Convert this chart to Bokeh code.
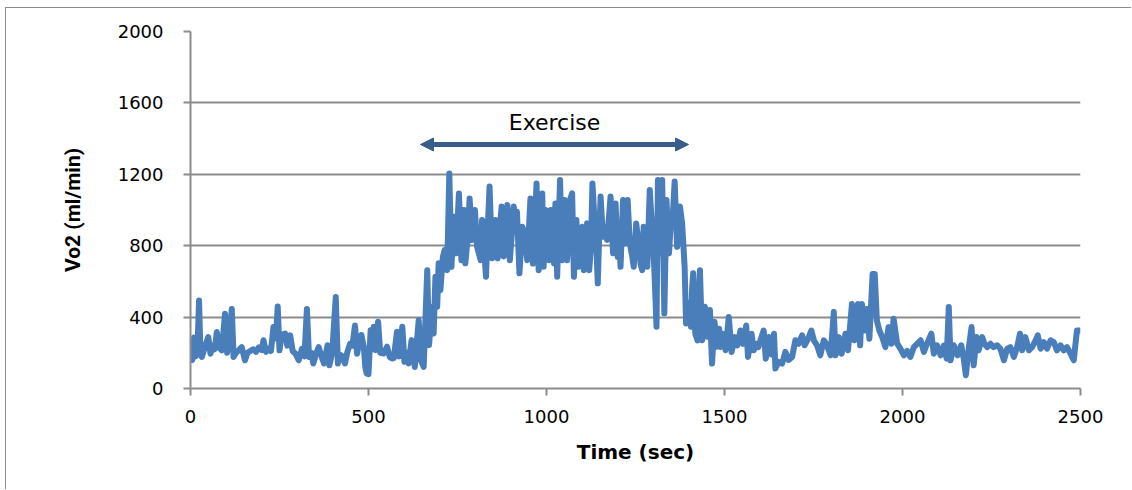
from bokeh.plotting import figure
from bokeh.models import Range1d, FixedTicker, Arrow, NormalHead, Label
from bokeh.embed import file_html
from bokeh.resources import INLINE

time_sec = [0, 5, 10, 15, 20, 24, 28, 32, 40, 50, 56, 62, 68, 74, 80, 88, 97, 103, 110, 116,
            121, 128, 136, 144, 153, 160, 168, 176, 184, 192, 200, 205, 212, 220, 226, 233, 240, 245, 250, 256,
            266, 272, 280, 287, 295, 304, 313, 320, 327, 333, 340, 345, 352, 360, 368, 375, 385, 390, 398, 408,
            414, 420, 427, 434, 440, 448, 455, 462, 468, 474, 480, 487, 491, 495,
            500, 506, 511, 515, 520, 527, 533, 543, 552, 560, 566, 571, 580, 586, 595, 601, 609, 613, 621, 630,
            641, 647, 655, 665, 670, 679, 683, 688, 693, 697, 702, 709, 714, 721, 727, 733, 740, 746, 754, 761,
            768, 772, 779, 784, 791, 799, 805, 815, 819, 824, 830, 835, 840, 847, 852, 857, 863, 869, 874, 880,
            885, 890, 897, 902, 908, 913, 917, 924, 932, 938, 946, 950, 955, 962, 967, 972, 978, 983, 988,
            992, 997, 1002, 1007, 1012, 1016, 1021, 1025, 1030, 1034, 1038, 1044, 1051, 1058, 1063, 1066, 1072, 1077, 1084, 1090,
            1095, 1100, 1105, 1110, 1114, 1120, 1125, 1129, 1136, 1140, 1144, 1148, 1152, 1157, 1161, 1166, 1170, 1175, 1180, 1187,
            1194, 1200, 1204, 1208, 1215, 1221, 1228, 1234, 1240, 1245, 1252, 1259, 1264, 1269, 1273, 1278, 1283, 1290, 1297, 1303,
            1309, 1313, 1320, 1325, 1331, 1337, 1344, 1350, 1353, 1360, 1367, 1375, 1381, 1388, 1392, 1400, 1406, 1409, 1412, 1418,
            1424, 1431, 1437, 1445, 1451, 1459, 1465, 1472, 1479,
            1485, 1489, 1494, 1503, 1512, 1520, 1529, 1536, 1545, 1552, 1561, 1566, 1576, 1582, 1590, 1595, 1601, 1610, 1616, 1624,
            1632, 1639, 1643, 1652, 1662, 1671, 1680, 1690, 1699, 1708, 1718, 1725, 1735, 1744, 1751, 1760, 1769, 1779, 1786, 1798,
            1807, 1812, 1821, 1829, 1840, 1847, 1858, 1865, 1875, 1881, 1886, 1894, 1900, 1907, 1916, 1922, 1928, 1935, 1943, 1952,
            1961, 1969, 1975, 1985, 1994,
            2004, 2013, 2022, 2032, 2041, 2051, 2060, 2069, 2081, 2088, 2097, 2107, 2116, 2124, 2130, 2135, 2144, 2155, 2165, 2172,
            2178, 2186, 2194, 2200, 2208, 2214, 2224, 2230, 2238, 2247, 2256, 2266, 2275, 2285, 2294, 2303, 2313, 2322, 2330, 2336,
            2345, 2355, 2364, 2374, 2380, 2388, 2397, 2406, 2416, 2425, 2434, 2444, 2453, 2462, 2472, 2481, 2490, 2500]

vo2 = [175, 160, 285, 180, 250, 493, 200, 177, 230, 288, 195, 240, 220, 316, 230, 214, 419, 200, 300, 446,
       177, 200, 215, 232, 158, 200, 210, 220, 205, 230, 215, 270, 205, 225, 210, 344, 280, 459, 214, 300,
       307, 240, 298, 210, 195, 158, 223, 180, 446, 177, 200, 140, 190, 232, 180, 140, 242, 130, 200, 512,
       140, 190, 180, 140, 200, 250, 240, 353, 195, 260, 300, 230, 120, 84,
       80, 327, 220, 346, 215, 374, 200, 196, 234, 175, 168, 170, 318, 180, 346, 150, 200, 140, 271, 121,
       383, 159, 121, 663, 243, 458, 308, 626, 458, 701, 551, 738, 776, 663, 1205, 682, 962, 757, 1093, 719,
       1000, 701, 850, 1065, 832, 1000, 794, 719, 944, 800, 626, 900, 1131, 730, 850, 944, 729, 900, 1019, 740,
       900, 1028, 719, 850, 1019, 900, 990, 645, 906, 870, 719, 870, 1065, 700, 900, 1149, 663, 900, 1093,
       682, 1000, 850, 719, 1000, 850, 701, 1037, 626, 900, 1168, 719, 1056, 719, 950, 1056, 1093, 626, 944, 682,
       850, 906, 663, 850, 925, 663, 800, 1149, 906, 800, 589, 850, 1075, 900, 850, 900, 832, 950, 1075, 757,
       1037, 738, 850, 682, 1056, 813, 1056, 813, 750, 682, 925, 813, 700, 663, 906, 800, 682, 1112, 888, 663,
       346, 1168, 757, 1168, 421, 1056, 757, 950, 906, 1159, 794, 1019, 925, 682, 364, 477, 346, 560, 645, 308,
       270, 663, 271, 458, 290, 440, 140, 374, 234,
       335, 232, 307, 214, 400, 205, 288, 242, 325, 250, 353, 177, 307, 214, 250, 232, 270, 325, 167, 288,
       190, 307, 112, 149, 140, 205, 160, 177, 270, 251, 298, 242, 279, 325, 270, 242, 186, 270, 251, 186,
       428, 186, 288, 195, 307, 214, 474, 270, 474, 242, 474, 325, 446, 279, 642, 642, 381, 325, 288, 232,
       344, 251, 391, 251, 223,
       186, 210, 177, 232, 250, 270, 205, 251, 307, 195, 242, 186, 240, 167, 456, 158, 242, 186, 242, 167,
       74, 223, 344, 130, 288, 214, 288, 251, 232, 251, 232, 242, 223, 158, 223, 232, 177, 232, 307, 214,
       288, 214, 232, 270, 298, 223, 260, 223, 270, 260, 214, 242, 214, 232, 195, 158, 325, 325]

x_ticks = [0, 500, 1000, 1500, 2000, 2500]
y_ticks = [0, 400, 800, 1200, 1600, 2000]
exercise_span = [646, 1399]
exercise_level = 1367
exercise_label = "Exercise"

p = figure(width=1126, height=482, output_backend="svg", toolbar_location=None,
           x_range=Range1d(0, 2500), y_range=Range1d(0, 2000),
           min_border_left=184, min_border_right=52, min_border_top=23, min_border_bottom=102,
           background_fill_color="white", border_fill_color="white")
p.styles = {"margin-left": "5px", "margin-top": "7px",
            "border-left": "1px solid #8c8c8c", "border-top": "1px solid #8c8c8c"}
p.outline_line_color = None

p.line(time_sec, vo2, line_color="#4A7EBB", line_width=6, line_join="round")

p.add_layout(Arrow(start=NormalHead(size=13, fill_color="#385D8A", line_color="#385D8A"),
                   end=NormalHead(size=13, fill_color="#385D8A", line_color="#385D8A"),
                   x_start=exercise_span[0], x_end=exercise_span[1],
                   y_start=exercise_level, y_end=exercise_level,
                   line_color="#385D8A", line_width=5))
p.add_layout(Label(x=(exercise_span[0] + exercise_span[1]) / 2, y=1490, text=exercise_label,
                   text_align="center", text_baseline="alphabetic", text_font="DejaVu Sans",
                   text_font_size="22px", text_color="black"))

p.xgrid.grid_line_color = None
p.ygrid.ticker = FixedTicker(ticks=y_ticks)
p.ygrid.grid_line_color = "#8c8c8c"
p.ygrid.grid_line_width = 2

for ax in (p.xaxis[0], p.yaxis[0]):
    ax.axis_line_color = "#8c8c8c"
    ax.axis_line_width = 2
    ax.major_tick_line_color = "#8c8c8c"
    ax.major_tick_line_width = 2
    ax.major_tick_in = 0
    ax.major_tick_out = 7
    ax.minor_tick_line_color = None
    ax.major_label_text_font = "DejaVu Sans"
    ax.major_label_text_font_size = "18px"
    ax.major_label_text_color = "black"
    ax.axis_label_text_color = "black"
    ax.axis_label_text_font_style = "bold"

p.xaxis.ticker = FixedTicker(ticks=x_ticks)
p.yaxis.ticker = FixedTicker(ticks=y_ticks)
p.xaxis.major_label_standoff = 14
p.yaxis.major_label_standoff = 20
p.xaxis.axis_label = "Time (sec)"
p.xaxis.axis_label_text_font = "DejaVu Sans"
p.xaxis.axis_label_text_font_size = "20px"
p.xaxis.axis_label_standoff = 14
p.yaxis.axis_label = "Vo2 (ml/min)"
p.yaxis.axis_label_text_font = "Roboto"
p.yaxis.axis_label_text_font_size = "21px"
p.yaxis.axis_label_standoff = 30

open("out.html", "w").write(file_html(p, INLINE))
